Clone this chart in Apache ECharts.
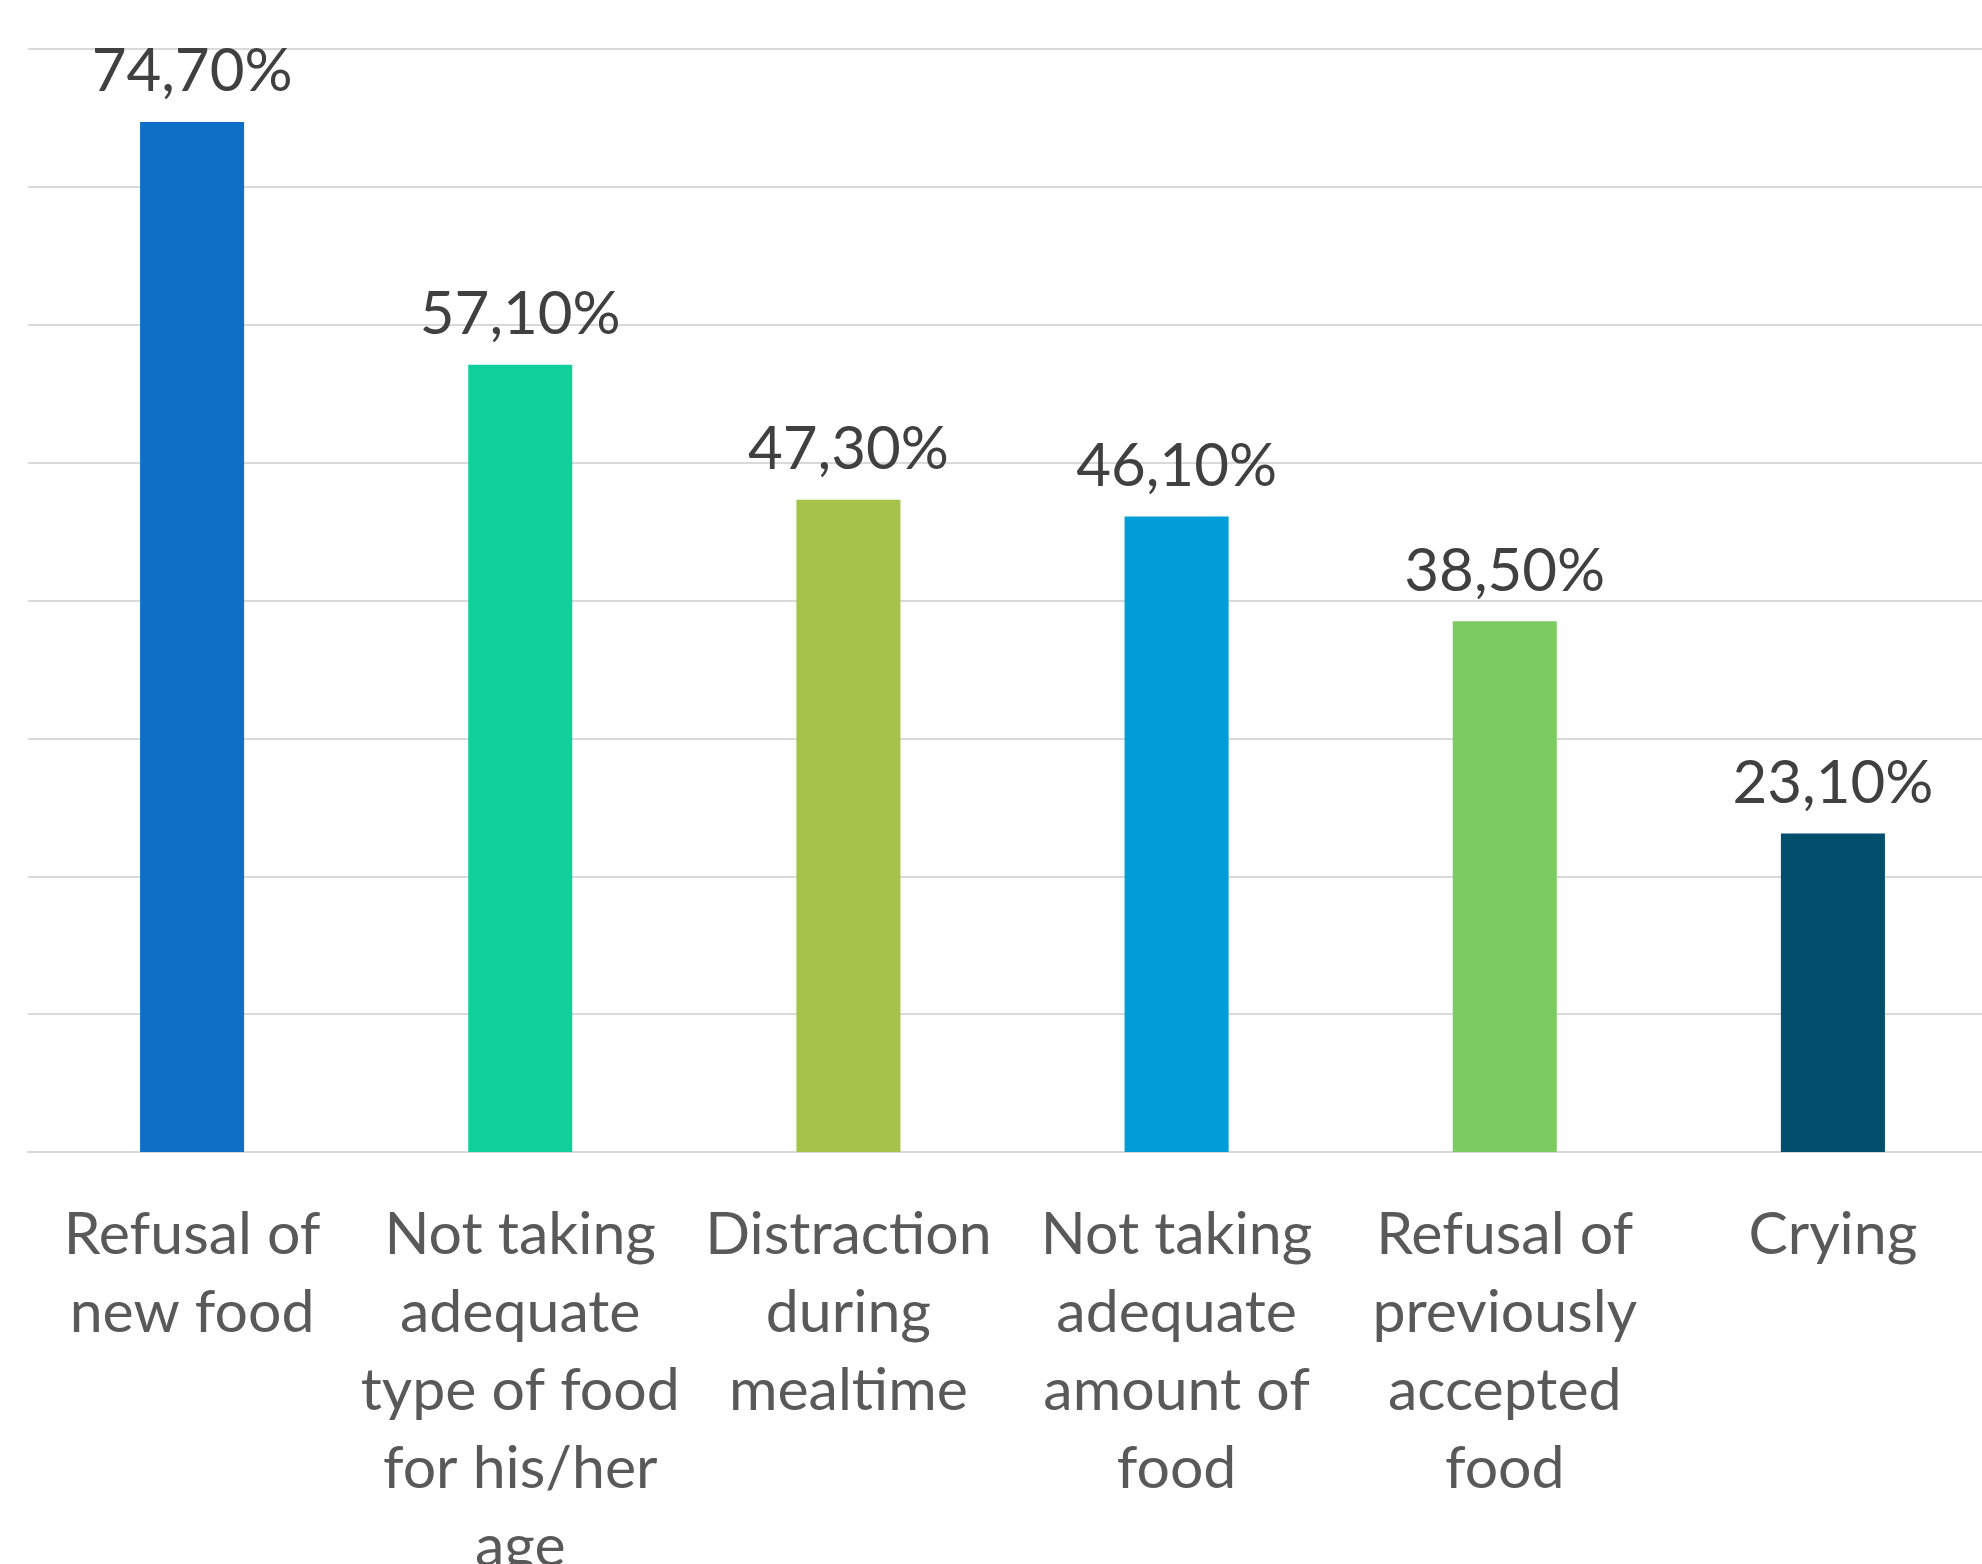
<!DOCTYPE html>
<html>
<head>
<meta charset="utf-8">
<style>
  html, body { margin: 0; padding: 0; background: #ffffff; }
  #chart { width: 1982px; height: 1564px; }
</style>
<script src="https://cdn.jsdelivr.net/npm/echarts@6/dist/echarts.min.js"></script>
</head>
<body>
<div id="chart"></div>
<script>
// Feeding difficulties reported, share of children (%)
const categories = [
  'Refusal of\nnew food',
  'Not taking\nadequate\ntype of food\nfor his/her\nage',
  'Distraction\nduring\nmealtime',
  'Not taking\nadequate\namount of\nfood',
  'Refusal of\npreviously\naccepted\nfood',
  'Crying'
];
const percentages = [74.7, 57.1, 47.3, 46.1, 38.5, 23.1];
const barColors = ['#0F6FC6', '#10CF9B', '#A5C249', '#009DD9', '#7CCA62', '#024F6D'];

const FONT = 'Lato, "Open Sans", sans-serif';

const chart = echarts.init(document.getElementById('chart'), null, { renderer: 'canvas' });

chart.setOption({
  animation: false,
  backgroundColor: '#ffffff',
  grid: {
    left: 28,
    right: -15,
    top: 49,
    bottom: 412,
    containLabel: false,
    outerBoundsMode: 'none'
  },
  xAxis: {
    type: 'category',
    data: categories,
    axisLine: { show: true, lineStyle: { color: '#D9D9D9', width: 2 } },
    axisTick: { show: false },
    axisLabel: {
      interval: 0,
      margin: 44,
      color: '#595959',
      fontFamily: FONT,
      fontSize: 59,
      lineHeight: 78,
      align: 'center'
    }
  },
  yAxis: {
    type: 'value',
    min: 0,
    max: 80,
    interval: 10,
    axisLine: { show: false },
    axisTick: { show: false },
    axisLabel: { show: false },
    splitLine: { show: true, lineStyle: { color: '#D9D9D9', width: 2 } }
  },
  series: [{
    type: 'bar',
    barWidth: '31.7%',
    data: percentages.map((v, i) => ({ value: v, itemStyle: { color: barColors[i] } })),
    label: {
      show: true,
      position: 'top',
      distance: 20,
      color: '#404040',
      fontFamily: FONT,
      fontSize: 60,
      formatter: p => p.value.toFixed(2).replace('.', ',') + '%'
    }
  }]
});
</script>
</body>
</html>
